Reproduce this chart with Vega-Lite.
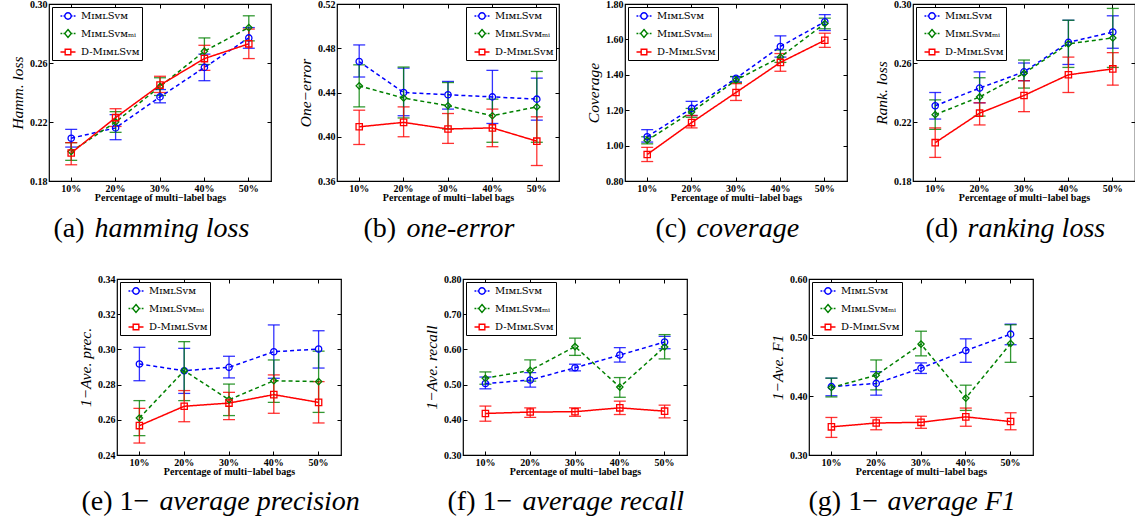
{
"$schema": "https://vega.github.io/schema/vega-lite/v6.json",
"padding": {"left": 9, "top": -2, "right": 5, "bottom": 5},
"bounds": "flush",
"spacing": 275,
"datasets": {"d": [
{"m":"a","x":"10%","s":"MɪᴍʟSᴠᴍ","v":0.209,"lo":0.203,"hi":0.215},
{"m":"a","x":"20%","s":"MɪᴍʟSᴠᴍ","v":0.216,"lo":0.208,"hi":0.225},
{"m":"a","x":"30%","s":"MɪᴍʟSᴠᴍ","v":0.237,"lo":0.233,"hi":0.242},
{"m":"a","x":"40%","s":"MɪᴍʟSᴠᴍ","v":0.257,"lo":0.248,"hi":0.266},
{"m":"a","x":"50%","s":"MɪᴍʟSᴠᴍ","v":0.277,"lo":0.270,"hi":0.284},
{"m":"a","x":"10%","s":"MɪᴍʟSᴠᴍₘᵢ","v":0.200,"lo":0.194,"hi":0.206},
{"m":"a","x":"20%","s":"MɪᴍʟSᴠᴍₘᵢ","v":0.220,"lo":0.213,"hi":0.227},
{"m":"a","x":"30%","s":"MɪᴍʟSᴠᴍₘᵢ","v":0.244,"lo":0.238,"hi":0.250},
{"m":"a","x":"40%","s":"MɪᴍʟSᴠᴍₘᵢ","v":0.268,"lo":0.259,"hi":0.277},
{"m":"a","x":"50%","s":"MɪᴍʟSᴠᴍₘᵢ","v":0.284,"lo":0.275,"hi":0.292},
{"m":"a","x":"10%","s":"D-MɪᴍʟSᴠᴍ","v":0.199,"lo":0.191,"hi":0.206},
{"m":"a","x":"20%","s":"D-MɪᴍʟSᴠᴍ","v":0.223,"lo":0.217,"hi":0.229},
{"m":"a","x":"30%","s":"D-MɪᴍʟSᴠᴍ","v":0.245,"lo":0.240,"hi":0.251},
{"m":"a","x":"40%","s":"D-MɪᴍʟSᴠᴍ","v":0.263,"lo":0.255,"hi":0.272},
{"m":"a","x":"50%","s":"D-MɪᴍʟSᴠᴍ","v":0.273,"lo":0.263,"hi":0.283},
{"m":"b","x":"10%","s":"MɪᴍʟSᴠᴍ","v":0.468,"lo":0.454,"hi":0.483},
{"m":"b","x":"20%","s":"MɪᴍʟSᴠᴍ","v":0.440,"lo":0.419,"hi":0.462},
{"m":"b","x":"30%","s":"MɪᴍʟSᴠᴍ","v":0.438,"lo":0.425,"hi":0.450},
{"m":"b","x":"40%","s":"MɪᴍʟSᴠᴍ","v":0.436,"lo":0.412,"hi":0.460},
{"m":"b","x":"50%","s":"MɪᴍʟSᴠᴍ","v":0.434,"lo":0.415,"hi":0.453},
{"m":"b","x":"10%","s":"MɪᴍʟSᴠᴍₘᵢ","v":0.446,"lo":0.427,"hi":0.465},
{"m":"b","x":"20%","s":"MɪᴍʟSᴠᴍₘᵢ","v":0.435,"lo":0.417,"hi":0.463},
{"m":"b","x":"30%","s":"MɪᴍʟSᴠᴍₘᵢ","v":0.428,"lo":0.407,"hi":0.449},
{"m":"b","x":"40%","s":"MɪᴍʟSᴠᴍₘᵢ","v":0.419,"lo":0.395,"hi":0.434},
{"m":"b","x":"50%","s":"MɪᴍʟSᴠᴍₘᵢ","v":0.427,"lo":0.395,"hi":0.459},
{"m":"b","x":"10%","s":"D-MɪᴍʟSᴠᴍ","v":0.409,"lo":0.393,"hi":0.424},
{"m":"b","x":"20%","s":"D-MɪᴍʟSᴠᴍ","v":0.413,"lo":0.400,"hi":0.427},
{"m":"b","x":"30%","s":"D-MɪᴍʟSᴠᴍ","v":0.407,"lo":0.394,"hi":0.421},
{"m":"b","x":"40%","s":"D-MɪᴍʟSᴠᴍ","v":0.408,"lo":0.391,"hi":0.425},
{"m":"b","x":"50%","s":"D-MɪᴍʟSᴠᴍ","v":0.396,"lo":0.374,"hi":0.418},
{"m":"c","x":"10%","s":"MɪᴍʟSᴠᴍ","v":1.05,"lo":1.02,"hi":1.09},
{"m":"c","x":"20%","s":"MɪᴍʟSᴠᴍ","v":1.21,"lo":1.17,"hi":1.25},
{"m":"c","x":"30%","s":"MɪᴍʟSᴠᴍ","v":1.38,"lo":1.36,"hi":1.39},
{"m":"c","x":"40%","s":"MɪᴍʟSᴠᴍ","v":1.56,"lo":1.50,"hi":1.62},
{"m":"c","x":"50%","s":"MɪᴍʟSᴠᴍ","v":1.70,"lo":1.65,"hi":1.74},
{"m":"c","x":"10%","s":"MɪᴍʟSᴠᴍₘᵢ","v":1.03,"lo":1.01,"hi":1.05},
{"m":"c","x":"20%","s":"MɪᴍʟSᴠᴍₘᵢ","v":1.19,"lo":1.16,"hi":1.21},
{"m":"c","x":"30%","s":"MɪᴍʟSᴠᴍₘᵢ","v":1.37,"lo":1.355,"hi":1.39},
{"m":"c","x":"40%","s":"MɪᴍʟSᴠᴍₘᵢ","v":1.50,"lo":1.47,"hi":1.54},
{"m":"c","x":"50%","s":"MɪᴍʟSᴠᴍₘᵢ","v":1.69,"lo":1.66,"hi":1.72},
{"m":"c","x":"10%","s":"D-MɪᴍʟSᴠᴍ","v":0.95,"lo":0.91,"hi":0.99},
{"m":"c","x":"20%","s":"D-MɪᴍʟSᴠᴍ","v":1.13,"lo":1.10,"hi":1.17},
{"m":"c","x":"30%","s":"D-MɪᴍʟSᴠᴍ","v":1.30,"lo":1.255,"hi":1.35},
{"m":"c","x":"40%","s":"D-MɪᴍʟSᴠᴍ","v":1.47,"lo":1.42,"hi":1.52},
{"m":"c","x":"50%","s":"D-MɪᴍʟSᴠᴍ","v":1.595,"lo":1.555,"hi":1.635},
{"m":"d","x":"10%","s":"MɪᴍʟSᴠᴍ","v":0.231,"lo":0.222,"hi":0.240},
{"m":"d","x":"20%","s":"MɪᴍʟSᴠᴍ","v":0.243,"lo":0.233,"hi":0.254},
{"m":"d","x":"30%","s":"MɪᴍʟSᴠᴍ","v":0.254,"lo":0.248,"hi":0.260},
{"m":"d","x":"40%","s":"MɪᴍʟSᴠᴍ","v":0.274,"lo":0.259,"hi":0.289},
{"m":"d","x":"50%","s":"MɪᴍʟSᴠᴍ","v":0.281,"lo":0.270,"hi":0.292},
{"m":"d","x":"10%","s":"MɪᴍʟSᴠᴍₘᵢ","v":0.225,"lo":0.215,"hi":0.235},
{"m":"d","x":"20%","s":"MɪᴍʟSᴠᴍₘᵢ","v":0.237,"lo":0.224,"hi":0.250},
{"m":"d","x":"30%","s":"MɪᴍʟSᴠᴍₘᵢ","v":0.253,"lo":0.243,"hi":0.262},
{"m":"d","x":"40%","s":"MɪᴍʟSᴠᴍₘᵢ","v":0.273,"lo":0.257,"hi":0.289},
{"m":"d","x":"50%","s":"MɪᴍʟSᴠᴍₘᵢ","v":0.277,"lo":0.257,"hi":0.297},
{"m":"d","x":"10%","s":"D-MɪᴍʟSᴠᴍ","v":0.206,"lo":0.196,"hi":0.216},
{"m":"d","x":"20%","s":"D-MɪᴍʟSᴠᴍ","v":0.226,"lo":0.218,"hi":0.233},
{"m":"d","x":"30%","s":"D-MɪᴍʟSᴠᴍ","v":0.238,"lo":0.227,"hi":0.248},
{"m":"d","x":"40%","s":"D-MɪᴍʟSᴠᴍ","v":0.252,"lo":0.240,"hi":0.264},
{"m":"d","x":"50%","s":"D-MɪᴍʟSᴠᴍ","v":0.256,"lo":0.245,"hi":0.267},
{"m":"e","x":"10%","s":"MɪᴍʟSᴠᴍ","v":0.2917,"lo":0.2822,"hi":0.3012},
{"m":"e","x":"20%","s":"MɪᴍʟSᴠᴍ","v":0.2879,"lo":0.275,"hi":0.3006},
{"m":"e","x":"30%","s":"MɪᴍʟSᴠᴍ","v":0.2898,"lo":0.2838,"hi":0.2961},
{"m":"e","x":"40%","s":"MɪᴍʟSᴠᴍ","v":0.2987,"lo":0.2836,"hi":0.3139},
{"m":"e","x":"50%","s":"MɪᴍʟSᴠᴍ","v":0.3002,"lo":0.2894,"hi":0.3106},
{"m":"e","x":"10%","s":"MɪᴍʟSᴠᴍₘᵢ","v":0.261,"lo":0.251,"hi":0.2709},
{"m":"e","x":"20%","s":"MɪᴍʟSᴠᴍₘᵢ","v":0.2879,"lo":0.2709,"hi":0.3044},
{"m":"e","x":"30%","s":"MɪᴍʟSᴠᴍₘᵢ","v":0.2714,"lo":0.2624,"hi":0.2803},
{"m":"e","x":"40%","s":"MɪᴍʟSᴠᴍₘᵢ","v":0.2822,"lo":0.2699,"hi":0.294},
{"m":"e","x":"50%","s":"MɪᴍʟSᴠᴍₘᵢ","v":0.2817,"lo":0.2642,"hi":0.299},
{"m":"e","x":"10%","s":"D-MɪᴍʟSᴠᴍ","v":0.2567,"lo":0.2468,"hi":0.2665},
{"m":"e","x":"20%","s":"D-MɪᴍʟSᴠᴍ","v":0.2677,"lo":0.2589,"hi":0.2766},
{"m":"e","x":"30%","s":"D-MɪᴍʟSᴠᴍ","v":0.2695,"lo":0.2601,"hi":0.2756},
{"m":"e","x":"40%","s":"D-MɪᴍʟSᴠᴍ","v":0.2743,"lo":0.2637,"hi":0.2855},
{"m":"e","x":"50%","s":"D-MɪᴍʟSᴠᴍ","v":0.2699,"lo":0.2582,"hi":0.2817},
{"m":"f","x":"10%","s":"MɪᴍʟSᴠᴍ","v":0.503,"lo":0.488,"hi":0.5215},
{"m":"f","x":"20%","s":"MɪᴍʟSᴠᴍ","v":0.513,"lo":0.493,"hi":0.534},
{"m":"f","x":"30%","s":"MɪᴍʟSᴠᴍ","v":0.548,"lo":0.539,"hi":0.558},
{"m":"f","x":"40%","s":"MɪᴍʟSᴠᴍ","v":0.584,"lo":0.564,"hi":0.605},
{"m":"f","x":"50%","s":"MɪᴍʟSᴠᴍ","v":0.621,"lo":0.602,"hi":0.637},
{"m":"f","x":"10%","s":"MɪᴍʟSᴠᴍₘᵢ","v":0.518,"lo":0.501,"hi":0.536},
{"m":"f","x":"20%","s":"MɪᴍʟSᴠᴍₘᵢ","v":0.5405,"lo":0.510,"hi":0.570},
{"m":"f","x":"30%","s":"MɪᴍʟSᴠᴍₘᵢ","v":0.608,"lo":0.583,"hi":0.632},
{"m":"f","x":"40%","s":"MɪᴍʟSᴠᴍₘᵢ","v":0.493,"lo":0.464,"hi":0.520},
{"m":"f","x":"50%","s":"MɪᴍʟSᴠᴍₘᵢ","v":0.607,"lo":0.573,"hi":0.642},
{"m":"f","x":"10%","s":"D-MɪᴍʟSᴠᴍ","v":0.418,"lo":0.396,"hi":0.439},
{"m":"f","x":"20%","s":"D-MɪᴍʟSᴠᴍ","v":0.422,"lo":0.407,"hi":0.434},
{"m":"f","x":"30%","s":"D-MɪᴍʟSᴠᴍ","v":0.423,"lo":0.410,"hi":0.434},
{"m":"f","x":"40%","s":"D-MɪᴍʟSᴠᴍ","v":0.434,"lo":0.415,"hi":0.453},
{"m":"f","x":"50%","s":"D-MɪᴍʟSᴠᴍ","v":0.4245,"lo":0.4055,"hi":0.4416},
{"m":"g","x":"10%","s":"MɪᴍʟSᴠᴍ","v":0.4165,"lo":0.401,"hi":0.431},
{"m":"g","x":"20%","s":"MɪᴍʟSᴠᴍ","v":0.422,"lo":0.402,"hi":0.442},
{"m":"g","x":"30%","s":"MɪᴍʟSᴠᴍ","v":0.448,"lo":0.439,"hi":0.457},
{"m":"g","x":"40%","s":"MɪᴍʟSᴠᴍ","v":0.478,"lo":0.458,"hi":0.498},
{"m":"g","x":"50%","s":"MɪᴍʟSᴠᴍ","v":0.506,"lo":0.488,"hi":0.523},
{"m":"g","x":"10%","s":"MɪᴍʟSᴠᴍₘᵢ","v":0.415,"lo":0.399,"hi":0.431},
{"m":"g","x":"20%","s":"MɪᴍʟSᴠᴍₘᵢ","v":0.436,"lo":0.411,"hi":0.462},
{"m":"g","x":"30%","s":"MɪᴍʟSᴠᴍₘᵢ","v":0.489,"lo":0.469,"hi":0.511},
{"m":"g","x":"40%","s":"MɪᴍʟSᴠᴍₘᵢ","v":0.397,"lo":0.376,"hi":0.419},
{"m":"g","x":"50%","s":"MɪᴍʟSᴠᴍₘᵢ","v":0.490,"lo":0.458,"hi":0.522},
{"m":"g","x":"10%","s":"D-MɪᴍʟSᴠᴍ","v":0.348,"lo":0.330,"hi":0.364},
{"m":"g","x":"20%","s":"D-MɪᴍʟSᴠᴍ","v":0.3545,"lo":0.343,"hi":0.364},
{"m":"g","x":"30%","s":"D-MɪᴍʟSᴠᴍ","v":0.3557,"lo":0.3455,"hi":0.366},
{"m":"g","x":"40%","s":"D-MɪᴍʟSᴠᴍ","v":0.365,"lo":0.349,"hi":0.380},
{"m":"g","x":"50%","s":"D-MɪᴍʟSᴠᴍ","v":0.357,"lo":0.343,"hi":0.372}
]},
"data": {"name": "d"},
"vconcat": [
{"hconcat": [
{"width": 222, "height": 177,
 "transform": [{"filter": "datum.m === 'a'"}],
 "encoding": {"color": {"field": "s", "type": "nominal", "sort": null, "scale": {"domain": ["MɪᴍʟSᴠᴍ","MɪᴍʟSᴠᴍₘᵢ","D-MɪᴍʟSᴠᴍ"], "range": ["#0000ff","#008000","#ff0000"]}, "legend": null}},
 "layer": [
  {"mark": {"type": "errorbar", "ticks": {"size": 12}, "thickness": 1.3, "opacity": 0.8},
   "encoding": {"x": {"field": "x", "type": "ordinal", "axis": {"title": "Percentage of multi−label bags"}},
    "y": {"field": "lo", "type": "quantitative", "scale": {"domain": [0.18, 0.30], "nice": false, "zero": false}, "axis": {"title": "Hamm. loss", "values": [0.18,0.22,0.26,0.30], "format": ".2f"}}, "y2": {"field": "hi"}}},
  {"mark": {"type": "line", "strokeWidth": 1.5},
   "encoding": {"x": {"field": "x", "type": "ordinal", "axis": {"orient": "top", "labels": false, "title": null}},
    "y": {"field": "v", "type": "quantitative", "axis": {"orient": "right", "labels": false, "title": null, "values": [0.18,0.22,0.26,0.30]}},
    "strokeDash": {"field": "s", "type": "nominal", "sort": null, "scale": {"domain": ["MɪᴍʟSᴠᴍ","MɪᴍʟSᴠᴍₘᵢ","D-MɪᴍʟSᴠᴍ"], "range": [[4,3],[4,3],[1,0]]}, "legend": null}}},
  {"mark": {"type": "point", "filled": false, "size": 40, "strokeWidth": 1.3, "opacity": 1},
   "encoding": {"x": {"field": "x", "type": "ordinal", "axis": {"orient": "bottom", "title": "(a)", "titleX": 4, "titleY": 55, "titleAlign": "left", "titleBaseline": "alphabetic", "titleFont": "Liberation Serif", "titleFontSize": 28, "titleFontWeight": "normal", "titleFontStyle": "normal", "labels": false, "ticks": false}},
    "y": {"field": "v", "type": "quantitative", "axis": null},
    "shape": {"field": "s", "type": "nominal", "sort": null, "scale": {"domain": ["MɪᴍʟSᴠᴍ","MɪᴍʟSᴠᴍₘᵢ","D-MɪᴍʟSᴠᴍ"], "range": ["circle","diamond","square"]}, "legend": null}}},
  {"mark": {"type": "point", "filled": false, "size": 144, "opacity": 0},
   "encoding": {"x": {"field": "x", "type": "ordinal", "axis": {"orient": "bottom", "title": "hamming loss", "titleX": 45, "titleY": 55, "titleAlign": "left", "titleBaseline": "alphabetic", "titleFont": "Liberation Serif", "titleFontSize": 28, "titleFontWeight": "normal", "titleFontStyle": "italic", "labels": false, "ticks": false}},
    "y": {"field": "v", "type": "quantitative", "axis": null},
    "color": {"field": "s", "type": "nominal", "sort": null, "scale": {"domain": ["MɪᴍʟSᴠᴍ","MɪᴍʟSᴠᴍₘᵢ","D-MɪᴍʟSᴠᴍ"], "range": ["#0000ff","#008000","#ff0000"]}, "legend": {"orient": "top-left", "title": null}},
    "shape": {"field": "s", "type": "nominal", "sort": null, "scale": {"domain": ["MɪᴍʟSᴠᴍ","MɪᴍʟSᴠᴍₘᵢ","D-MɪᴍʟSᴠᴍ"], "range": ["M-1.25,0L-0.95,0M-0.75,0L-0.53,0M0.53,0L0.75,0M0.95,0L1.25,0M0.53,0A0.53,0.53,0,1,1,-0.53,0A0.53,0.53,0,1,1,0.53,0","M-1.25,0L-0.95,0M-0.75,0L-0.55,0M0.55,0L0.75,0M0.95,0L1.25,0M0,-0.66L0.55,0L0,0.66L-0.55,0Z","M-1.25,0L-0.47,0M0.47,0L1.25,0M-0.47,-0.47L0.47,-0.47L0.47,0.47L-0.47,0.47Z"]}, "legend": {"orient": "top-left", "title": null}}}}
 ],
 "resolve": {"scale": {"shape": "independent", "color": "independent"}, "axis": {"x": "independent", "y": "independent"}}},
{"width": 222, "height": 177,
 "transform": [{"filter": "datum.m === 'b'"}],
 "encoding": {"color": {"field": "s", "type": "nominal", "sort": null, "scale": {"domain": ["MɪᴍʟSᴠᴍ","MɪᴍʟSᴠᴍₘᵢ","D-MɪᴍʟSᴠᴍ"], "range": ["#0000ff","#008000","#ff0000"]}, "legend": null}},
 "layer": [
  {"mark": {"type": "errorbar", "ticks": {"size": 12}, "thickness": 1.3, "opacity": 0.8},
   "encoding": {"x": {"field": "x", "type": "ordinal", "axis": {"title": "Percentage of multi−label bags"}},
    "y": {"field": "lo", "type": "quantitative", "scale": {"domain": [0.36, 0.52], "nice": false, "zero": false}, "axis": {"title": "One−error", "values": [0.36,0.40,0.44,0.48,0.52], "format": ".2f"}}, "y2": {"field": "hi"}}},
  {"mark": {"type": "line", "strokeWidth": 1.5},
   "encoding": {"x": {"field": "x", "type": "ordinal", "axis": {"orient": "top", "labels": false, "title": null}},
    "y": {"field": "v", "type": "quantitative", "axis": {"orient": "right", "labels": false, "title": null, "values": [0.36,0.40,0.44,0.48,0.52]}},
    "strokeDash": {"field": "s", "type": "nominal", "sort": null, "scale": {"domain": ["MɪᴍʟSᴠᴍ","MɪᴍʟSᴠᴍₘᵢ","D-MɪᴍʟSᴠᴍ"], "range": [[4,3],[4,3],[1,0]]}, "legend": null}}},
  {"mark": {"type": "point", "filled": false, "size": 40, "strokeWidth": 1.3, "opacity": 1},
   "encoding": {"x": {"field": "x", "type": "ordinal", "axis": {"orient": "bottom", "title": "(b)", "titleX": 26, "titleY": 55, "titleAlign": "left", "titleBaseline": "alphabetic", "titleFont": "Liberation Serif", "titleFontSize": 28, "titleFontWeight": "normal", "titleFontStyle": "normal", "labels": false, "ticks": false}},
    "y": {"field": "v", "type": "quantitative", "axis": null},
    "shape": {"field": "s", "type": "nominal", "sort": null, "scale": {"domain": ["MɪᴍʟSᴠᴍ","MɪᴍʟSᴠᴍₘᵢ","D-MɪᴍʟSᴠᴍ"], "range": ["circle","diamond","square"]}, "legend": null}}},
  {"mark": {"type": "point", "filled": false, "size": 144, "opacity": 0},
   "encoding": {"x": {"field": "x", "type": "ordinal", "axis": {"orient": "bottom", "title": "one-error", "titleX": 69, "titleY": 55, "titleAlign": "left", "titleBaseline": "alphabetic", "titleFont": "Liberation Serif", "titleFontSize": 28, "titleFontWeight": "normal", "titleFontStyle": "italic", "labels": false, "ticks": false}},
    "y": {"field": "v", "type": "quantitative", "axis": null},
    "color": {"field": "s", "type": "nominal", "sort": null, "scale": {"domain": ["MɪᴍʟSᴠᴍ","MɪᴍʟSᴠᴍₘᵢ","D-MɪᴍʟSᴠᴍ"], "range": ["#0000ff","#008000","#ff0000"]}, "legend": {"orient": "top-right", "title": null}},
    "shape": {"field": "s", "type": "nominal", "sort": null, "scale": {"domain": ["MɪᴍʟSᴠᴍ","MɪᴍʟSᴠᴍₘᵢ","D-MɪᴍʟSᴠᴍ"], "range": ["M-1.25,0L-0.95,0M-0.75,0L-0.53,0M0.53,0L0.75,0M0.95,0L1.25,0M0.53,0A0.53,0.53,0,1,1,-0.53,0A0.53,0.53,0,1,1,0.53,0","M-1.25,0L-0.95,0M-0.75,0L-0.55,0M0.55,0L0.75,0M0.95,0L1.25,0M0,-0.66L0.55,0L0,0.66L-0.55,0Z","M-1.25,0L-0.47,0M0.47,0L1.25,0M-0.47,-0.47L0.47,-0.47L0.47,0.47L-0.47,0.47Z"]}, "legend": {"orient": "top-right", "title": null}}}}
 ],
 "resolve": {"scale": {"shape": "independent", "color": "independent"}, "axis": {"x": "independent", "y": "independent"}}},
{"width": 222, "height": 177,
 "transform": [{"filter": "datum.m === 'c'"}],
 "encoding": {"color": {"field": "s", "type": "nominal", "sort": null, "scale": {"domain": ["MɪᴍʟSᴠᴍ","MɪᴍʟSᴠᴍₘᵢ","D-MɪᴍʟSᴠᴍ"], "range": ["#0000ff","#008000","#ff0000"]}, "legend": null}},
 "layer": [
  {"mark": {"type": "errorbar", "ticks": {"size": 12}, "thickness": 1.3, "opacity": 0.8},
   "encoding": {"x": {"field": "x", "type": "ordinal", "axis": {"title": "Percentage of multi−label bags"}},
    "y": {"field": "lo", "type": "quantitative", "scale": {"domain": [0.8, 1.8], "nice": false, "zero": false}, "axis": {"title": "Coverage", "values": [0.8,1.0,1.2,1.4,1.6,1.8], "format": ".2f"}}, "y2": {"field": "hi"}}},
  {"mark": {"type": "line", "strokeWidth": 1.5},
   "encoding": {"x": {"field": "x", "type": "ordinal", "axis": {"orient": "top", "labels": false, "title": null}},
    "y": {"field": "v", "type": "quantitative", "axis": {"orient": "right", "labels": false, "title": null, "values": [0.8,1.0,1.2,1.4,1.6,1.8]}},
    "strokeDash": {"field": "s", "type": "nominal", "sort": null, "scale": {"domain": ["MɪᴍʟSᴠᴍ","MɪᴍʟSᴠᴍₘᵢ","D-MɪᴍʟSᴠᴍ"], "range": [[4,3],[4,3],[1,0]]}, "legend": null}}},
  {"mark": {"type": "point", "filled": false, "size": 40, "strokeWidth": 1.3, "opacity": 1},
   "encoding": {"x": {"field": "x", "type": "ordinal", "axis": {"orient": "bottom", "title": "(c)", "titleX": 30, "titleY": 55, "titleAlign": "left", "titleBaseline": "alphabetic", "titleFont": "Liberation Serif", "titleFontSize": 28, "titleFontWeight": "normal", "titleFontStyle": "normal", "labels": false, "ticks": false}},
    "y": {"field": "v", "type": "quantitative", "axis": null},
    "shape": {"field": "s", "type": "nominal", "sort": null, "scale": {"domain": ["MɪᴍʟSᴠᴍ","MɪᴍʟSᴠᴍₘᵢ","D-MɪᴍʟSᴠᴍ"], "range": ["circle","diamond","square"]}, "legend": null}}},
  {"mark": {"type": "point", "filled": false, "size": 144, "opacity": 0},
   "encoding": {"x": {"field": "x", "type": "ordinal", "axis": {"orient": "bottom", "title": "coverage", "titleX": 71, "titleY": 55, "titleAlign": "left", "titleBaseline": "alphabetic", "titleFont": "Liberation Serif", "titleFontSize": 28, "titleFontWeight": "normal", "titleFontStyle": "italic", "labels": false, "ticks": false}},
    "y": {"field": "v", "type": "quantitative", "axis": null},
    "color": {"field": "s", "type": "nominal", "sort": null, "scale": {"domain": ["MɪᴍʟSᴠᴍ","MɪᴍʟSᴠᴍₘᵢ","D-MɪᴍʟSᴠᴍ"], "range": ["#0000ff","#008000","#ff0000"]}, "legend": {"orient": "top-left", "title": null}},
    "shape": {"field": "s", "type": "nominal", "sort": null, "scale": {"domain": ["MɪᴍʟSᴠᴍ","MɪᴍʟSᴠᴍₘᵢ","D-MɪᴍʟSᴠᴍ"], "range": ["M-1.25,0L-0.95,0M-0.75,0L-0.53,0M0.53,0L0.75,0M0.95,0L1.25,0M0.53,0A0.53,0.53,0,1,1,-0.53,0A0.53,0.53,0,1,1,0.53,0","M-1.25,0L-0.95,0M-0.75,0L-0.55,0M0.55,0L0.75,0M0.95,0L1.25,0M0,-0.66L0.55,0L0,0.66L-0.55,0Z","M-1.25,0L-0.47,0M0.47,0L1.25,0M-0.47,-0.47L0.47,-0.47L0.47,0.47L-0.47,0.47Z"]}, "legend": {"orient": "top-left", "title": null}}}}
 ],
 "resolve": {"scale": {"shape": "independent", "color": "independent"}, "axis": {"x": "independent", "y": "independent"}}},
{"width": 222, "height": 177,
 "transform": [{"filter": "datum.m === 'd'"}],
 "encoding": {"color": {"field": "s", "type": "nominal", "sort": null, "scale": {"domain": ["MɪᴍʟSᴠᴍ","MɪᴍʟSᴠᴍₘᵢ","D-MɪᴍʟSᴠᴍ"], "range": ["#0000ff","#008000","#ff0000"]}, "legend": null}},
 "layer": [
  {"mark": {"type": "errorbar", "ticks": {"size": 12}, "thickness": 1.3, "opacity": 0.8},
   "encoding": {"x": {"field": "x", "type": "ordinal", "axis": {"title": "Percentage of multi−label bags"}},
    "y": {"field": "lo", "type": "quantitative", "scale": {"domain": [0.18, 0.30], "nice": false, "zero": false}, "axis": {"title": "Rank. loss", "values": [0.18,0.22,0.26,0.30], "format": ".2f"}}, "y2": {"field": "hi"}}},
  {"mark": {"type": "line", "strokeWidth": 1.5},
   "encoding": {"x": {"field": "x", "type": "ordinal", "axis": {"orient": "top", "labels": false, "title": null}},
    "y": {"field": "v", "type": "quantitative", "axis": {"orient": "right", "labels": false, "title": null, "values": [0.18,0.22,0.26,0.30]}},
    "strokeDash": {"field": "s", "type": "nominal", "sort": null, "scale": {"domain": ["MɪᴍʟSᴠᴍ","MɪᴍʟSᴠᴍₘᵢ","D-MɪᴍʟSᴠᴍ"], "range": [[4,3],[4,3],[1,0]]}, "legend": null}}},
  {"mark": {"type": "point", "filled": false, "size": 40, "strokeWidth": 1.3, "opacity": 1},
   "encoding": {"x": {"field": "x", "type": "ordinal", "axis": {"orient": "bottom", "title": "(d)", "titleX": 12, "titleY": 55, "titleAlign": "left", "titleBaseline": "alphabetic", "titleFont": "Liberation Serif", "titleFontSize": 28, "titleFontWeight": "normal", "titleFontStyle": "normal", "labels": false, "ticks": false}},
    "y": {"field": "v", "type": "quantitative", "axis": null},
    "shape": {"field": "s", "type": "nominal", "sort": null, "scale": {"domain": ["MɪᴍʟSᴠᴍ","MɪᴍʟSᴠᴍₘᵢ","D-MɪᴍʟSᴠᴍ"], "range": ["circle","diamond","square"]}, "legend": null}}},
  {"mark": {"type": "point", "filled": false, "size": 144, "opacity": 0},
   "encoding": {"x": {"field": "x", "type": "ordinal", "axis": {"orient": "bottom", "title": "ranking loss", "titleX": 54, "titleY": 55, "titleAlign": "left", "titleBaseline": "alphabetic", "titleFont": "Liberation Serif", "titleFontSize": 28, "titleFontWeight": "normal", "titleFontStyle": "italic", "labels": false, "ticks": false}},
    "y": {"field": "v", "type": "quantitative", "axis": null},
    "color": {"field": "s", "type": "nominal", "sort": null, "scale": {"domain": ["MɪᴍʟSᴠᴍ","MɪᴍʟSᴠᴍₘᵢ","D-MɪᴍʟSᴠᴍ"], "range": ["#0000ff","#008000","#ff0000"]}, "legend": {"orient": "top-left", "title": null}},
    "shape": {"field": "s", "type": "nominal", "sort": null, "scale": {"domain": ["MɪᴍʟSᴠᴍ","MɪᴍʟSᴠᴍₘᵢ","D-MɪᴍʟSᴠᴍ"], "range": ["M-1.25,0L-0.95,0M-0.75,0L-0.53,0M0.53,0L0.75,0M0.95,0L1.25,0M0.53,0A0.53,0.53,0,1,1,-0.53,0A0.53,0.53,0,1,1,0.53,0","M-1.25,0L-0.95,0M-0.75,0L-0.55,0M0.55,0L0.75,0M0.95,0L1.25,0M0,-0.66L0.55,0L0,0.66L-0.55,0Z","M-1.25,0L-0.47,0M0.47,0L1.25,0M-0.47,-0.47L0.47,-0.47L0.47,0.47L-0.47,0.47Z"]}, "legend": {"orient": "top-left", "title": null}}}}
 ],
 "resolve": {"scale": {"shape": "independent", "color": "independent"}, "axis": {"x": "independent", "y": "independent"}}}
], "spacing": 66, "bounds": "flush"},
{"hconcat": [
{"hconcat": [
{"width": 1, "height": 1, "data": {"values": [{"k": 1}]}, "mark": {"type": "point", "opacity": 0}, "encoding": {}, "view": {"stroke": null}},
{"width": 224, "height": 176,
 "transform": [{"filter": "datum.m === 'e'"}],
 "encoding": {"color": {"field": "s", "type": "nominal", "sort": null, "scale": {"domain": ["MɪᴍʟSᴠᴍ","MɪᴍʟSᴠᴍₘᵢ","D-MɪᴍʟSᴠᴍ"], "range": ["#0000ff","#008000","#ff0000"]}, "legend": null}},
 "layer": [
  {"mark": {"type": "errorbar", "ticks": {"size": 12}, "thickness": 1.3, "opacity": 0.8},
   "encoding": {"x": {"field": "x", "type": "ordinal", "axis": {"title": "Percentage of multi−label bags"}},
    "y": {"field": "lo", "type": "quantitative", "scale": {"domain": [0.24, 0.34], "nice": false, "zero": false}, "axis": {"title": "1−Ave. prec.", "values": [0.24,0.26,0.28,0.30,0.32,0.34], "format": ".2f"}}, "y2": {"field": "hi"}}},
  {"mark": {"type": "line", "strokeWidth": 1.5},
   "encoding": {"x": {"field": "x", "type": "ordinal", "axis": {"orient": "top", "labels": false, "title": null}},
    "y": {"field": "v", "type": "quantitative", "axis": {"orient": "right", "labels": false, "title": null, "values": [0.24,0.26,0.28,0.30,0.32,0.34]}},
    "strokeDash": {"field": "s", "type": "nominal", "sort": null, "scale": {"domain": ["MɪᴍʟSᴠᴍ","MɪᴍʟSᴠᴍₘᵢ","D-MɪᴍʟSᴠᴍ"], "range": [[4,3],[4,3],[1,0]]}, "legend": null}}},
  {"mark": {"type": "point", "filled": false, "size": 40, "strokeWidth": 1.3, "opacity": 1},
   "encoding": {"x": {"field": "x", "type": "ordinal", "axis": {"orient": "bottom", "title": "(e) 1−", "titleX": -36, "titleY": 54, "titleAlign": "left", "titleBaseline": "alphabetic", "titleFont": "Liberation Serif", "titleFontSize": 28, "titleFontWeight": "normal", "titleFontStyle": "normal", "labels": false, "ticks": false}},
    "y": {"field": "v", "type": "quantitative", "axis": null},
    "shape": {"field": "s", "type": "nominal", "sort": null, "scale": {"domain": ["MɪᴍʟSᴠᴍ","MɪᴍʟSᴠᴍₘᵢ","D-MɪᴍʟSᴠᴍ"], "range": ["circle","diamond","square"]}, "legend": null}}},
  {"mark": {"type": "point", "filled": false, "size": 144, "opacity": 0},
   "encoding": {"x": {"field": "x", "type": "ordinal", "axis": {"orient": "bottom", "title": "average precision", "titleX": 42, "titleY": 54, "titleAlign": "left", "titleBaseline": "alphabetic", "titleFont": "Liberation Serif", "titleFontSize": 28, "titleFontWeight": "normal", "titleFontStyle": "italic", "labels": false, "ticks": false}},
    "y": {"field": "v", "type": "quantitative", "axis": null},
    "color": {"field": "s", "type": "nominal", "sort": null, "scale": {"domain": ["MɪᴍʟSᴠᴍ","MɪᴍʟSᴠᴍₘᵢ","D-MɪᴍʟSᴠᴍ"], "range": ["#0000ff","#008000","#ff0000"]}, "legend": {"orient": "top-left", "title": null}},
    "shape": {"field": "s", "type": "nominal", "sort": null, "scale": {"domain": ["MɪᴍʟSᴠᴍ","MɪᴍʟSᴠᴍₘᵢ","D-MɪᴍʟSᴠᴍ"], "range": ["M-1.25,0L-0.95,0M-0.75,0L-0.53,0M0.53,0L0.75,0M0.95,0L1.25,0M0.53,0A0.53,0.53,0,1,1,-0.53,0A0.53,0.53,0,1,1,0.53,0","M-1.25,0L-0.95,0M-0.75,0L-0.55,0M0.55,0L0.75,0M0.95,0L1.25,0M0,-0.66L0.55,0L0,0.66L-0.55,0Z","M-1.25,0L-0.47,0M0.47,0L1.25,0M-0.47,-0.47L0.47,-0.47L0.47,0.47L-0.47,0.47Z"]}, "legend": {"orient": "top-left", "title": null}}}}
 ],
 "resolve": {"scale": {"shape": "independent", "color": "independent"}, "axis": {"x": "independent", "y": "independent"}}}
], "spacing": 67, "bounds": "flush"},
{"hconcat": [
{"width": 1, "height": 1, "data": {"values": [{"k": 1}]}, "mark": {"type": "point", "opacity": 0}, "encoding": {}, "view": {"stroke": null}},
{"width": 224, "height": 176,
 "transform": [{"filter": "datum.m === 'f'"}],
 "encoding": {"color": {"field": "s", "type": "nominal", "sort": null, "scale": {"domain": ["MɪᴍʟSᴠᴍ","MɪᴍʟSᴠᴍₘᵢ","D-MɪᴍʟSᴠᴍ"], "range": ["#0000ff","#008000","#ff0000"]}, "legend": null}},
 "layer": [
  {"mark": {"type": "errorbar", "ticks": {"size": 12}, "thickness": 1.3, "opacity": 0.8},
   "encoding": {"x": {"field": "x", "type": "ordinal", "axis": {"title": "Percentage of multi−label bags"}},
    "y": {"field": "lo", "type": "quantitative", "scale": {"domain": [0.3, 0.8], "nice": false, "zero": false}, "axis": {"title": "1−Ave. recall", "values": [0.3,0.4,0.5,0.6,0.7,0.8], "format": ".2f"}}, "y2": {"field": "hi"}}},
  {"mark": {"type": "line", "strokeWidth": 1.5},
   "encoding": {"x": {"field": "x", "type": "ordinal", "axis": {"orient": "top", "labels": false, "title": null}},
    "y": {"field": "v", "type": "quantitative", "axis": {"orient": "right", "labels": false, "title": null, "values": [0.3,0.4,0.5,0.6,0.7,0.8]}},
    "strokeDash": {"field": "s", "type": "nominal", "sort": null, "scale": {"domain": ["MɪᴍʟSᴠᴍ","MɪᴍʟSᴠᴍₘᵢ","D-MɪᴍʟSᴠᴍ"], "range": [[4,3],[4,3],[1,0]]}, "legend": null}}},
  {"mark": {"type": "point", "filled": false, "size": 40, "strokeWidth": 1.3, "opacity": 1},
   "encoding": {"x": {"field": "x", "type": "ordinal", "axis": {"orient": "bottom", "title": "(f) 1−", "titleX": -16, "titleY": 54, "titleAlign": "left", "titleBaseline": "alphabetic", "titleFont": "Liberation Serif", "titleFontSize": 28, "titleFontWeight": "normal", "titleFontStyle": "normal", "labels": false, "ticks": false}},
    "y": {"field": "v", "type": "quantitative", "axis": null},
    "shape": {"field": "s", "type": "nominal", "sort": null, "scale": {"domain": ["MɪᴍʟSᴠᴍ","MɪᴍʟSᴠᴍₘᵢ","D-MɪᴍʟSᴠᴍ"], "range": ["circle","diamond","square"]}, "legend": null}}},
  {"mark": {"type": "point", "filled": false, "size": 144, "opacity": 0},
   "encoding": {"x": {"field": "x", "type": "ordinal", "axis": {"orient": "bottom", "title": "average recall", "titleX": 59, "titleY": 54, "titleAlign": "left", "titleBaseline": "alphabetic", "titleFont": "Liberation Serif", "titleFontSize": 28, "titleFontWeight": "normal", "titleFontStyle": "italic", "labels": false, "ticks": false}},
    "y": {"field": "v", "type": "quantitative", "axis": null},
    "color": {"field": "s", "type": "nominal", "sort": null, "scale": {"domain": ["MɪᴍʟSᴠᴍ","MɪᴍʟSᴠᴍₘᵢ","D-MɪᴍʟSᴠᴍ"], "range": ["#0000ff","#008000","#ff0000"]}, "legend": {"orient": "top-left", "title": null}},
    "shape": {"field": "s", "type": "nominal", "sort": null, "scale": {"domain": ["MɪᴍʟSᴠᴍ","MɪᴍʟSᴠᴍₘᵢ","D-MɪᴍʟSᴠᴍ"], "range": ["M-1.25,0L-0.95,0M-0.75,0L-0.53,0M0.53,0L0.75,0M0.95,0L1.25,0M0.53,0A0.53,0.53,0,1,1,-0.53,0A0.53,0.53,0,1,1,0.53,0","M-1.25,0L-0.95,0M-0.75,0L-0.55,0M0.55,0L0.75,0M0.95,0L1.25,0M0,-0.66L0.55,0L0,0.66L-0.55,0Z","M-1.25,0L-0.47,0M0.47,0L1.25,0M-0.47,-0.47L0.47,-0.47L0.47,0.47L-0.47,0.47Z"]}, "legend": {"orient": "top-left", "title": null}}}}
 ],
 "resolve": {"scale": {"shape": "independent", "color": "independent"}, "axis": {"x": "independent", "y": "independent"}}}
], "spacing": 67, "bounds": "flush"},
{"hconcat": [
{"width": 1, "height": 1, "data": {"values": [{"k": 1}]}, "mark": {"type": "point", "opacity": 0}, "encoding": {}, "view": {"stroke": null}},
{"width": 224, "height": 176,
 "transform": [{"filter": "datum.m === 'g'"}],
 "encoding": {"color": {"field": "s", "type": "nominal", "sort": null, "scale": {"domain": ["MɪᴍʟSᴠᴍ","MɪᴍʟSᴠᴍₘᵢ","D-MɪᴍʟSᴠᴍ"], "range": ["#0000ff","#008000","#ff0000"]}, "legend": null}},
 "layer": [
  {"mark": {"type": "errorbar", "ticks": {"size": 12}, "thickness": 1.3, "opacity": 0.8},
   "encoding": {"x": {"field": "x", "type": "ordinal", "axis": {"title": "Percentage of multi−label bags"}},
    "y": {"field": "lo", "type": "quantitative", "scale": {"domain": [0.3, 0.6], "nice": false, "zero": false}, "axis": {"title": "1−Ave. F1", "values": [0.3,0.4,0.5,0.6], "format": ".2f"}}, "y2": {"field": "hi"}}},
  {"mark": {"type": "line", "strokeWidth": 1.5},
   "encoding": {"x": {"field": "x", "type": "ordinal", "axis": {"orient": "top", "labels": false, "title": null}},
    "y": {"field": "v", "type": "quantitative", "axis": {"orient": "right", "labels": false, "title": null, "values": [0.3,0.4,0.5,0.6]}},
    "strokeDash": {"field": "s", "type": "nominal", "sort": null, "scale": {"domain": ["MɪᴍʟSᴠᴍ","MɪᴍʟSᴠᴍₘᵢ","D-MɪᴍʟSᴠᴍ"], "range": [[4,3],[4,3],[1,0]]}, "legend": null}}},
  {"mark": {"type": "point", "filled": false, "size": 40, "strokeWidth": 1.3, "opacity": 1},
   "encoding": {"x": {"field": "x", "type": "ordinal", "axis": {"orient": "bottom", "title": "(g) 1−", "titleX": -1, "titleY": 54, "titleAlign": "left", "titleBaseline": "alphabetic", "titleFont": "Liberation Serif", "titleFontSize": 28, "titleFontWeight": "normal", "titleFontStyle": "normal", "labels": false, "ticks": false}},
    "y": {"field": "v", "type": "quantitative", "axis": null},
    "shape": {"field": "s", "type": "nominal", "sort": null, "scale": {"domain": ["MɪᴍʟSᴠᴍ","MɪᴍʟSᴠᴍₘᵢ","D-MɪᴍʟSᴠᴍ"], "range": ["circle","diamond","square"]}, "legend": null}}},
  {"mark": {"type": "point", "filled": false, "size": 144, "opacity": 0},
   "encoding": {"x": {"field": "x", "type": "ordinal", "axis": {"orient": "bottom", "title": "average F1", "titleX": 78, "titleY": 54, "titleAlign": "left", "titleBaseline": "alphabetic", "titleFont": "Liberation Serif", "titleFontSize": 28, "titleFontWeight": "normal", "titleFontStyle": "italic", "labels": false, "ticks": false}},
    "y": {"field": "v", "type": "quantitative", "axis": null},
    "color": {"field": "s", "type": "nominal", "sort": null, "scale": {"domain": ["MɪᴍʟSᴠᴍ","MɪᴍʟSᴠᴍₘᵢ","D-MɪᴍʟSᴠᴍ"], "range": ["#0000ff","#008000","#ff0000"]}, "legend": {"orient": "top-left", "title": null}},
    "shape": {"field": "s", "type": "nominal", "sort": null, "scale": {"domain": ["MɪᴍʟSᴠᴍ","MɪᴍʟSᴠᴍₘᵢ","D-MɪᴍʟSᴠᴍ"], "range": ["M-1.25,0L-0.95,0M-0.75,0L-0.53,0M0.53,0L0.75,0M0.95,0L1.25,0M0.53,0A0.53,0.53,0,1,1,-0.53,0A0.53,0.53,0,1,1,0.53,0","M-1.25,0L-0.95,0M-0.75,0L-0.55,0M0.55,0L0.75,0M0.95,0L1.25,0M0,-0.66L0.55,0L0,0.66L-0.55,0Z","M-1.25,0L-0.47,0M0.47,0L1.25,0M-0.47,-0.47L0.47,-0.47L0.47,0.47L-0.47,0.47Z"]}, "legend": {"orient": "top-left", "title": null}}}}
 ],
 "resolve": {"scale": {"shape": "independent", "color": "independent"}, "axis": {"x": "independent", "y": "independent"}}}
], "spacing": 67, "bounds": "flush"}
], "spacing": 346, "bounds": "flush"}
],
"config": {
 "background": "white",
 "view": {"stroke": "black", "strokeWidth": 1.2},
 "axis": {"grid": false, "domain": false, "tickColor": "black", "labelColor": "black", "titleColor": "black", "labelFont": "Liberation Serif", "labelFontWeight": "bold", "labelFontSize": 10, "titleFont": "Liberation Serif", "tickSize": -4, "labelPadding": 6, "labelOverlap": false},
 "axisX": {"labelAngle": 0, "titleFontWeight": "bold", "titleFontSize": 10, "titlePadding": -1},
 "axisY": {"titleFontStyle": "italic", "titleFontWeight": "normal", "titleFontSize": 15.5, "titlePadding": 4},
 "legend": {"labelFont": "DejaVu Serif", "labelFontSize": 10, "labelColor": "black", "strokeColor": "black", "fillColor": "white", "padding": 2, "symbolSize": 144, "symbolOffset": 7, "symbolStrokeWidth": 1.4, "rowPadding": 4.5, "offset": 3, "labelOffset": 6, "cornerRadius": 0}
}
}
